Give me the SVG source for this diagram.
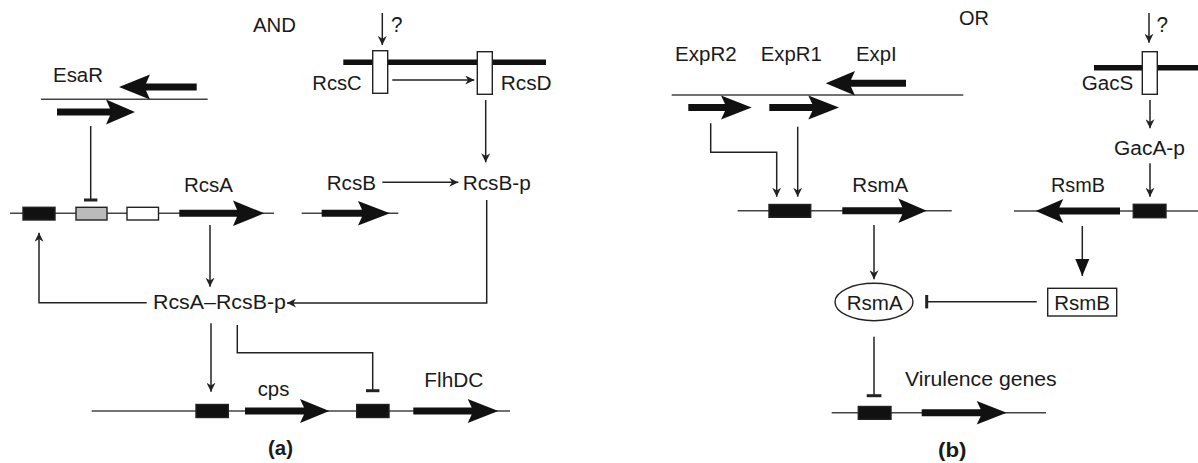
<svg xmlns="http://www.w3.org/2000/svg" width="1198" height="463" viewBox="0 0 1198 463">
<defs>
<style>
text{font-family:"Liberation Sans",Arial,sans-serif;font-size:20px;fill:#1a1a1a}
.b{font-weight:bold}
.q{font-size:22px}
.gl{stroke:#444;stroke-width:1.5;fill:none}
.c{stroke:#222;stroke-width:1.5;fill:none}
.a{marker-end:url(#ah)}
.bar{stroke:#222;stroke-width:3;fill:none}
.mem{stroke:#111;stroke-width:5.5;fill:none}
.ga{fill:#111}
.box{stroke:#222;stroke-width:1.4}
</style>
<marker id="ah" viewBox="0 0 10 10" markerWidth="9" markerHeight="9" refX="10" refY="5" orient="auto" markerUnits="userSpaceOnUse">
<path d="M0,0 L10,5 L0,10 L3,5 Z" fill="#222"/>
</marker>
<marker id="big" viewBox="0 0 17 14" markerWidth="17" markerHeight="15" refX="17" refY="7" orient="auto" markerUnits="userSpaceOnUse">
<path d="M0,0 L17,7 L0,14 Z" fill="#111"/>
</marker>
</defs>

<g id="labels">
<text x="253" y="32" textLength="43" lengthAdjust="spacingAndGlyphs">AND</text>
<text x="959" y="25" textLength="30" lengthAdjust="spacingAndGlyphs">OR</text>
<text class="b" x="268" y="455" textLength="25" lengthAdjust="spacingAndGlyphs">(a)</text>
<text class="b" x="938" y="457" textLength="28.5" lengthAdjust="spacingAndGlyphs">(b)</text>
</g>

<g id="gene-lines">
<line class="gl" x1="41" y1="99.3" x2="207.7" y2="99.3"/>
<line class="gl" x1="10" y1="213.3" x2="274" y2="213.3"/>
<line class="gl" x1="301.7" y1="213.3" x2="398.3" y2="213.3"/>
<line class="gl" x1="91.7" y1="411" x2="510" y2="411"/>
<line class="gl" x1="671.7" y1="95" x2="963.3" y2="95"/>
<line class="gl" x1="737.7" y1="210.7" x2="951.7" y2="210.7"/>
<line class="gl" x1="1014" y1="211" x2="1198" y2="211"/>
<line class="gl" x1="831.7" y1="412.7" x2="1046" y2="412.7"/>
</g>

<g id="esaR">
<text x="53" y="81.5" textLength="50" lengthAdjust="spacingAndGlyphs">EsaR</text>
<path class="ga" d="M196.7,83.5 L146,83.5 L150,74.5 L119,87 L150,99.5 L146,90.5 L196.7,90.5 Z"/>
<path class="ga" d="M57,108.5 L110,108.5 L106,99.5 L135,112 L106,124.5 L110,115.5 L57,115.5 Z"/>
</g>

<g id="rcsA-promoter">
<rect class="box" x="23" y="207.3" width="32" height="12.7" fill="#111"/>
<rect class="box" x="76" y="207.3" width="31" height="12.7" fill="#bbb"/>
<rect class="box" x="127" y="207.3" width="31.5" height="12.7" fill="#fff"/>
</g>

<g id="rcsA">
<text x="184" y="191.5" textLength="49" lengthAdjust="spacingAndGlyphs">RcsA</text>
<path class="ga" d="M179.3,209.8 L237,209.8 L233,200.5 L264.3,213.3 L233,226 L237,216.8 L179.3,216.8 Z"/>
</g>

<g id="membrane-rcs">
<line class="mem" x1="343.3" y1="62.3" x2="546" y2="62.3"/>
<text class="q" x="391" y="31.7" textLength="11.5" lengthAdjust="spacingAndGlyphs">?</text>
</g>

<g id="rcsC">
<rect class="box" x="372.7" y="50.7" width="15" height="42.6" fill="#fff"/>
<text x="312.3" y="89.5" textLength="49.4" lengthAdjust="spacingAndGlyphs">RcsC</text>
</g>

<g id="rcsD">
<rect class="box" x="477.3" y="51.7" width="15" height="42.6" fill="#fff"/>
<text x="500.7" y="90" textLength="51" lengthAdjust="spacingAndGlyphs">RcsD</text>
</g>

<g id="rcsB">
<text x="326.7" y="190" textLength="49.3" lengthAdjust="spacingAndGlyphs">RcsB</text>
<path class="ga" d="M321.7,209.8 L362,209.8 L358,201 L390,213.3 L358,225.6 L362,216.8 L321.7,216.8 Z"/>
</g>

<g id="rcsB-p">
<text x="462.7" y="190" textLength="68" lengthAdjust="spacingAndGlyphs">RcsB-p</text>
</g>

<g id="rcsA-rcsB-p">
<text x="153" y="308.7" textLength="133" lengthAdjust="spacingAndGlyphs">RcsA–RcsB-p</text>
</g>

<g id="cps">
<rect class="box" x="196" y="404.5" width="32.3" height="13" fill="#111"/>
<text x="257.7" y="396" textLength="31.6" lengthAdjust="spacingAndGlyphs">cps</text>
<path class="ga" d="M245,407.5 L304,407.5 L300,399 L329.3,411 L300,423 L304,414.5 L245,414.5 Z"/>
</g>

<g id="flhDC">
<rect class="box" x="356.7" y="404.5" width="32.3" height="13" fill="#111"/>
<text x="424.3" y="386.7" textLength="59" lengthAdjust="spacingAndGlyphs">FlhDC</text>
<path class="ga" d="M413.3,407.5 L471.7,407.5 L467.7,399 L498.3,411 L467.7,423 L471.7,414.5 L413.3,414.5 Z"/>
</g>

<g id="exp-genes">
<text x="675" y="60.7" textLength="61.7" lengthAdjust="spacingAndGlyphs">ExpR2</text>
<text x="760.7" y="60.7" textLength="61" lengthAdjust="spacingAndGlyphs">ExpR1</text>
<text x="856" y="60.7" textLength="40.7" lengthAdjust="spacingAndGlyphs">ExpI</text>
<path class="ga" d="M906,79.8 L851,79.8 L855,71 L825.7,83.3 L855,95.5 L851,86.8 L906,86.8 Z"/>
<path class="ga" d="M688.3,104 L725,104 L721,95.5 L751.7,107.5 L721,119.5 L725,111 L688.3,111 Z"/>
<path class="ga" d="M769.3,104 L812.3,104 L808.3,95.5 L839,107.5 L808.3,119.5 L812.3,111 L769.3,111 Z"/>
</g>

<g id="rsmA-gene">
<rect class="box" x="769" y="204.5" width="41.7" height="12.8" fill="#111"/>
<text x="852.3" y="191.7" textLength="56" lengthAdjust="spacingAndGlyphs">RsmA</text>
<path class="ga" d="M842.3,207.2 L902.3,207.2 L898.3,198.5 L926.7,210.7 L898.3,223 L902.3,214.2 L842.3,214.2 Z"/>
</g>

<g id="membrane-gac">
<line class="mem" x1="1094" y1="67.7" x2="1198" y2="67.7"/>
<text class="q" x="1156.5" y="31.7" textLength="11.5" lengthAdjust="spacingAndGlyphs">?</text>
</g>

<g id="gacS">
<rect class="box" x="1142.3" y="51.7" width="15" height="42.6" fill="#fff"/>
<text x="1081.7" y="90" textLength="51.6" lengthAdjust="spacingAndGlyphs">GacS</text>
</g>

<g id="gacA-p">
<text x="1114" y="155" textLength="71" lengthAdjust="spacingAndGlyphs">GacA-p</text>
</g>

<g id="rsmB-gene">
<rect class="box" x="1133.3" y="204.3" width="32.7" height="13.4" fill="#111"/>
<text x="1051" y="191.7" textLength="54" lengthAdjust="spacingAndGlyphs">RsmB</text>
<path class="ga" d="M1120,207.5 L1059.3,207.5 L1063.3,199 L1035.7,211 L1063.3,223 L1059.3,214.5 L1120,214.5 Z"/>
</g>

<g id="rsmA-protein">
<ellipse cx="874" cy="302" rx="39" ry="18.7" fill="#fff" stroke="#222" stroke-width="1.4"/>
<text x="846.7" y="310" textLength="56" lengthAdjust="spacingAndGlyphs">RsmA</text>
</g>

<g id="rsmB-rna">
<rect x="1047.7" y="288.3" width="69" height="27.7" fill="#fff" stroke="#222" stroke-width="1.4"/>
<text x="1054.3" y="310" textLength="55.7" lengthAdjust="spacingAndGlyphs">RsmB</text>
</g>

<g id="virulence">
<rect class="box" x="858.3" y="406.5" width="32.7" height="12.8" fill="#111"/>
<text x="905" y="385.7" textLength="151.7" lengthAdjust="spacingAndGlyphs">Virulence genes</text>
<path class="ga" d="M921.7,409.2 L980.7,409.2 L976.7,401 L1006.7,412.7 L976.7,424.5 L980.7,416.2 L921.7,416.2 Z"/>
</g>

<g id="connectors">
<line class="c a" x1="382.3" y1="13" x2="382.3" y2="45"/>
<line class="c a" x1="1149" y1="13" x2="1149" y2="42.7"/>
<line class="c a" x1="392.3" y1="80" x2="474.3" y2="80"/>
<line class="c a" x1="485.7" y1="100" x2="485.7" y2="162.3"/>
<line class="c a" x1="382.3" y1="182.3" x2="458.3" y2="182.3"/>
<line class="c" x1="90.7" y1="126" x2="90.7" y2="200"/>
<line class="bar" x1="84" y1="200" x2="97.4" y2="200"/>
<line class="c a" x1="210" y1="225" x2="210" y2="286.7"/>
<polyline class="c a" points="146.7,302.7 39,302.7 39,232.7"/>
<polyline class="c a" points="486.7,200 486.7,303 287,303"/>
<line class="c a" x1="211" y1="323.3" x2="211" y2="391.7"/>
<polyline class="c" points="237.3,325 237.3,352.7 372.7,352.7 372.7,390.7"/>
<line class="bar" x1="366" y1="390.7" x2="379.4" y2="390.7"/>
<polyline class="c a" points="710.7,123.3 710.7,152.3 776.7,152.3 776.7,196.7"/>
<line class="c a" x1="797.7" y1="126.7" x2="797.7" y2="196.7"/>
<line class="c a" x1="1150" y1="100" x2="1150" y2="128.3"/>
<line class="c a" x1="1150" y1="163.3" x2="1150" y2="196.7"/>
<line class="c a" x1="874" y1="225" x2="874" y2="279.3"/>
<line class="c" x1="1082.3" y1="226" x2="1082.3" y2="276" marker-end="url(#big)"/>
<line class="c" x1="1036.7" y1="301.7" x2="926.7" y2="301.7"/>
<line class="bar" x1="926.7" y1="295" x2="926.7" y2="308.4"/>
<line class="c" x1="874" y1="336.7" x2="874" y2="395.7"/>
<line class="bar" x1="866.7" y1="395.7" x2="881.4" y2="395.7"/>
</g>
</svg>
